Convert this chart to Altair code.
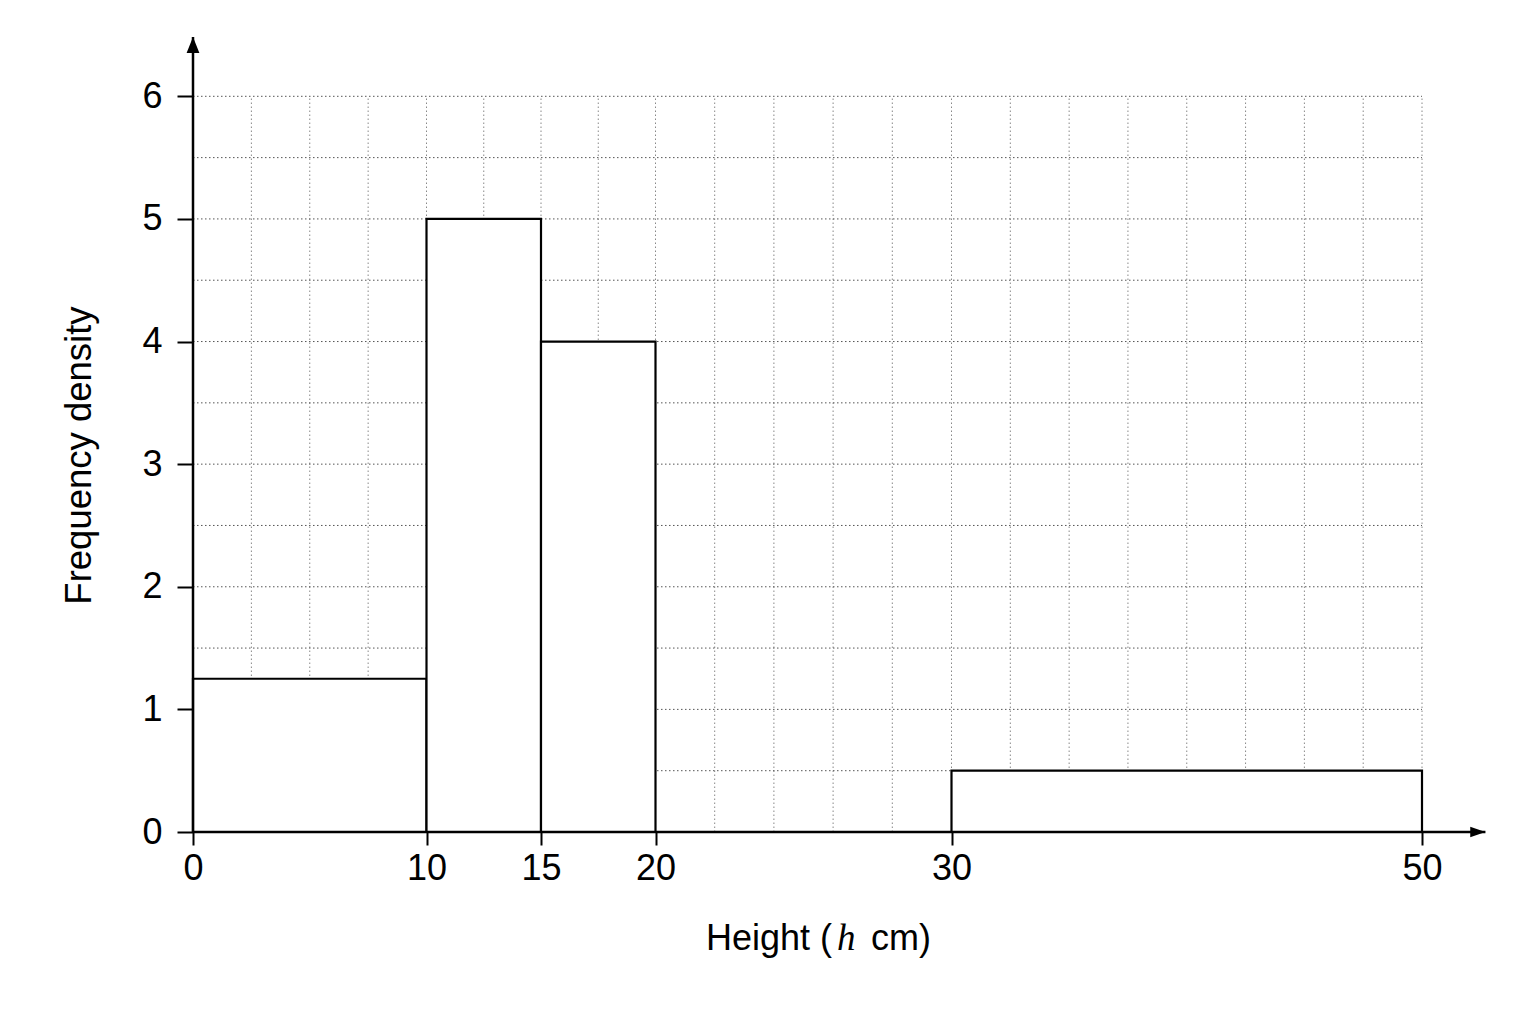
import altair as alt
import pandas as pd

# ---- data ----
class_start = [0, 10, 15, 30]
class_end = [10, 15, 20, 50]
freq_density = [1.25, 5, 4, 0.5]

x_ticks = [0, 10, 15, 20, 30, 50]
y_ticks = [0, 1, 2, 3, 4, 5, 6]

grid_x = [0, 2.5, 5, 7.5, 10, 12.5, 15, 17.5, 20, 22, 24, 26, 28, 30,
          32.5, 35, 37.5, 40, 42.5, 45, 47.5, 50]
grid_y = [0.5, 1, 1.5, 2, 2.5, 3, 3.5, 4, 4.5, 5, 5.5, 6]

x_axis_end = 52.68
y_axis_end = 6.484

FONT = "Liberation Sans"

# piecewise scale reproducing the reference's drawing
x_scale = alt.Scale(domain=[0, 10, 15, 20, 30, 50, 53],
                    range=[0, 233.5, 348, 462.5, 758.5, 1229, 1300],
                    nice=False, zero=False)
y_scale = alt.Scale(domain=[0, 6.5], nice=False, zero=False)

x_axis = alt.Axis(values=x_ticks, title=None, grid=False, domain=False,
                  tickSize=13, tickWidth=2, tickColor="black",
                  labelFont=FONT, labelFontSize=36, labelColor="black",
                  labelPadding=6, labelFlush=False, labelOverlap=False)
y_axis = alt.Axis(values=y_ticks, title="Frequency density", grid=False, domain=False,
                  tickSize=16, tickWidth=2, tickColor="black",
                  labelFont=FONT, labelFontSize=36, labelColor="black",
                  labelPadding=15, labelFlush=False, labelOverlap=False,
                  titleFont=FONT, titleFontSize=36.5, titleFontWeight="normal",
                  titleColor="black", titleAngle=270, titleAlign="center",
                  titleBaseline="middle", titleX=-114, titleY=420)


def X(field):
    return alt.X(field, type="quantitative", scale=x_scale, axis=x_axis)


def Y(field):
    return alt.Y(field, type="quantitative", scale=y_scale, axis=y_axis)


# grid
vgrid_df = pd.DataFrame({"x": grid_x, "y": [0] * len(grid_x), "y2": [6] * len(grid_x)})
hgrid_df = pd.DataFrame({"y": grid_y, "x": [0] * len(grid_y), "x2": [50] * len(grid_y)})

vgrid = alt.Chart(vgrid_df).mark_rule(color="#888888", strokeWidth=1, strokeDash=[1.5, 2.5]).encode(
    x=X("x"), y=Y("y"), y2="y2:Q",
)
hgrid = alt.Chart(hgrid_df).mark_rule(color="#555555", strokeWidth=1, strokeDash=[1.5, 2.5]).encode(
    x=X("x"), x2="x2:Q", y=Y("y"),
)

# bars
bars_df = pd.DataFrame({"x": class_start, "x2": class_end, "y": freq_density,
                        "y2": [0] * len(class_start)})
bars = alt.Chart(bars_df).mark_rect(fill="white", stroke="black", strokeWidth=2.2).encode(
    x=X("x"), x2="x2:Q", y=Y("y"), y2="y2:Q",
)

# axis lines with arrowheads
xline = alt.Chart(pd.DataFrame({"x": [0], "x2": [x_axis_end], "y": [0]})).mark_rule(
    color="black", strokeWidth=2.5).encode(x=X("x"), x2="x2:Q", y=Y("y"))
yline = alt.Chart(pd.DataFrame({"x": [0], "y": [0], "y2": [y_axis_end]})).mark_rule(
    color="black", strokeWidth=2.5).encode(x=X("x"), y=Y("y"), y2="y2:Q")

xarrow = alt.Chart(pd.DataFrame({"x": [x_axis_end], "y": [0]})).mark_point(
    shape="M0,0L-1.9,-0.65L-1.9,0.65Z", size=256, filled=True, color="black",
    opacity=1, strokeWidth=0).encode(x=X("x"), y=Y("y"))
yarrow = alt.Chart(pd.DataFrame({"x": [0], "y": [y_axis_end]})).mark_point(
    shape="M0,0L-0.8,2L0.8,2Z", size=256, filled=True, color="black",
    opacity=1, strokeWidth=0).encode(x=X("x"), y=Y("y"))

# x-axis title with italic h
t1 = alt.Chart(pd.DataFrame({"t": ["Height ("]})).mark_text(
    align="left", baseline="alphabetic", font=FONT, fontSize=36, color="black").encode(
    x=alt.value(513), y=alt.value(915), text="t:N")
t2 = alt.Chart(pd.DataFrame({"t": ["h"]})).mark_text(
    align="left", baseline="alphabetic", font="Liberation Serif", fontStyle="italic",
    fontSize=37, color="black").encode(
    x=alt.value(644), y=alt.value(915), text="t:N")
t3 = alt.Chart(pd.DataFrame({"t": ["cm)"]})).mark_text(
    align="left", baseline="alphabetic", font=FONT, fontSize=36, color="black").encode(
    x=alt.value(678), y=alt.value(915), text="t:N")

chart = alt.layer(vgrid, hgrid, bars, xline, yline, xarrow, yarrow, t1, t2, t3).properties(
    width=1300, height=797,
    padding={"left": 185, "top": 27, "right": 35, "bottom": 150},
    autosize=alt.AutoSizeParams(type="none"),
    background="white",
).configure_view(stroke=None)

chart.save("out.html", embed_options={"renderer": "svg", "actions": False})
